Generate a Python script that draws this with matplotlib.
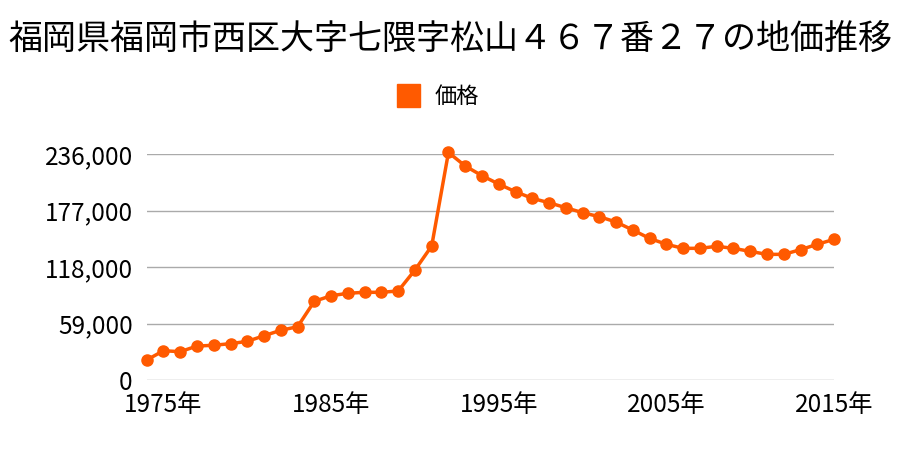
import matplotlib
matplotlib.use('Agg')
import matplotlib.pyplot as plt

plt.rcParams['font.family'] = ['Noto Sans CJK JP', 'DejaVu Sans']

# 年と価格
years = list(range(1974, 2016))
prices = [20900, 30600, 29600, 35500, 36300, 38000, 40400, 46300, 52000, 55700,
          82300, 88100, 90700, 91700, 91700, 93100, 115000, 140100, 238000, 223800,
          213700, 204900, 196900, 190000, 185400, 180200, 175000, 170800, 165200, 156800,
          148100, 141900, 137700, 137700, 139800, 137700, 134500, 131400, 131400, 136300,
          141900, 147100]
yticks = [0, 59000, 118000, 177000, 236000]
xticks = [1975, 1985, 1995, 2005, 2015]
title = '福岡県福岡市西区大字七隈字松山４６７番２７の地価推移'
color = '#FF5A00'

fig = plt.figure(figsize=(9, 4.5), dpi=100)
ax = fig.add_axes([0.163, 0.1556, 0.7637, 0.5014])

ax.plot(years, prices, color=color, lw=2.5, marker='o', ms=8, clip_on=False, zorder=3)

ax.set_xlim(1974, 2015)
ax.set_ylim(0, 236000)
ax.set_yticks(yticks)
ax.set_yticklabels([f'{v:,}' for v in yticks], fontsize=17.5)
ax.set_xticks(xticks)
ax.set_xticklabels([f'{y}年' for y in xticks], fontsize=17.5)
ax.tick_params(axis='y', length=0, pad=10)
ax.tick_params(axis='x', length=0, pad=9)
ax.grid(axis='y', color='#aaaaaa', lw=1)
for s in ax.spines.values():
    s.set_visible(False)

fig.text(0.5, 0.91, title, ha='center', va='center', fontsize=24.5)
fig.patches.append(plt.Rectangle((397/900, 1-107/450), 23/900, 23/450,
                                 transform=fig.transFigure, color=color))
fig.text(435/900, 1-96/450, '価格', ha='left', va='center', fontsize=16)

fig.savefig('out.png', dpi=100)
